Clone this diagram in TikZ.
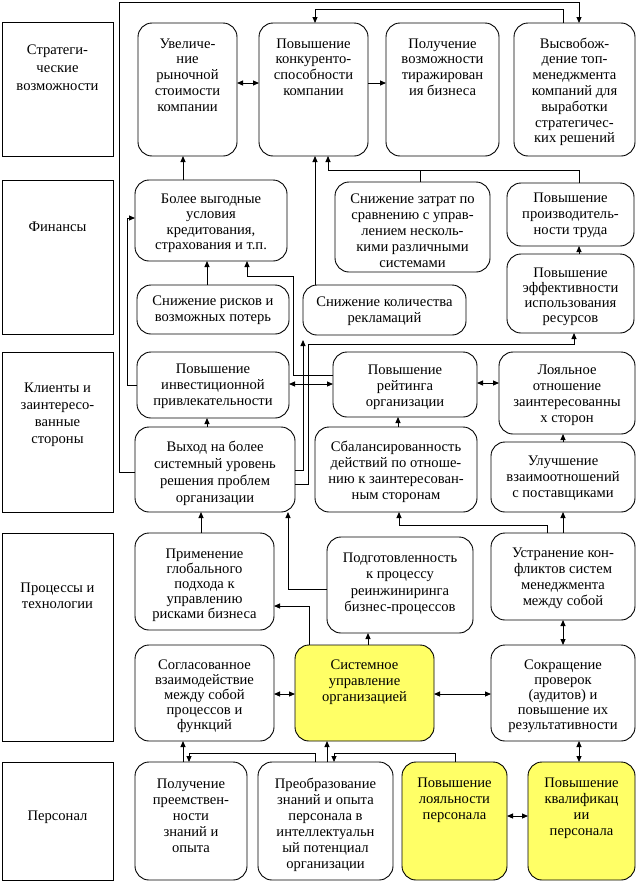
\documentclass[tikz,border=0pt]{standalone}
\usepackage{fontspec}
\setmainfont{Liberation Serif}
\usetikzlibrary{arrows.meta}
\definecolor{hl}{RGB}{255,255,102}
\tikzset{
  rbox/.style={draw, line width=0.9pt, rounded corners=14pt, inner sep=0pt, outer sep=0pt, fill=white},
  ybox/.style={rbox, fill=hl},
  sbox/.style={draw, line width=0.9pt, inner sep=0pt, outer sep=0pt},
  txt/.style={inner sep=0pt, outer sep=0pt, align=center},
  ln/.style={line width=0.9pt},
  conn/.style={line width=0.9pt, -{Triangle[length=6pt,width=5pt]}},
  dbl/.style={line width=0.9pt, {Triangle[length=6pt,width=5pt]}-{Triangle[length=6pt,width=5pt]}}
}
% #1 style, #2 name, #3 x1, #4 y1, #5 x2, #6 y2, #7 first baseline, #8 baselineskip, #9 text
\newcommand\bxn[9]{%
  \node[#1, anchor=north west, minimum width={#5pt-#3pt}, minimum height={#6pt-#4pt}] (#2) at (#3,#4) {};
  \node[txt, anchor=north, font=\fontsize{14.6}{#8}\selectfont] (#2-t) at ({(#3+#5)/2}, {#7-0.7*#8}) {\strut #9};
}
\begin{document}
\begin{tikzpicture}[x=1pt,y=-1pt]
\useasboundingbox (0,0) rectangle (638,881);
% left category boxes
\bxn{sbox}{strat}{2}{22}{113}{156}{54}{18}{Стратеги-\\ческие\\возможности}
\bxn{sbox}{fin}{2}{180}{113}{334}{231}{17}{Финансы}
\bxn{sbox}{cli}{2}{352}{113}{512}{392}{17}{Клиенты и\\заинтересо-\\ванные\\стороны}
\bxn{sbox}{proc}{2}{533}{113}{741}{592}{16.5}{Процессы и\\технологии}
\bxn{sbox}{pers}{2}{762}{113}{880}{820}{17}{Персонал}
% top row
\bxn{rbox}{uvel}{138}{23}{237}{156}{48}{15.8}{Увеличе-\\ние\\рыночной\\стоимости\\компании}
\bxn{rbox}{konk}{259}{23}{368}{156}{48}{15.8}{Повышение\\конкуренто-\\способности\\компании}
\bxn{rbox}{tiraz}{386}{23}{499}{156}{48}{15.8}{Получение\\возможности\\тиражирован\\ия бизнеса}
\bxn{rbox}{vysv}{514}{23}{635}{156}{48}{15.8}{Высвобож-\\дение топ-\\менеджмента\\компаний для\\выработки\\стратегичес-\\ких решений}
% row 2
\bxn{rbox}{kred}{135}{180}{287}{261}{203}{15.5}{Более выгодные\\условия\\кредитования,\\страхования и т.п.}
\bxn{rbox}{zatr}{335}{182}{490}{272}{203}{16}{Снижение затрат по\\сравнению с управ-\\лением несколь-\\кими различными\\системами}
\bxn{rbox}{proizv}{507}{183}{634}{246}{202}{16}{Повышение\\производитель-\\ности труда}
\bxn{rbox}{risk}{137}{285}{289}{334}{305}{16}{Снижение рисков и\\возможных потерь}
\bxn{rbox}{rekl}{303}{285}{466}{335}{306}{16}{Снижение количества\\рекламаций}
\bxn{rbox}{eff}{507}{254}{634}{333}{277}{15}{Повышение\\эффективности\\использования\\ресурсов}
% row 3
\bxn{rbox}{invest}{137}{352}{289}{418}{373}{16}{Повышение\\инвестиционной\\привлекательности}
\bxn{rbox}{reit}{333}{352}{477}{417}{374}{16}{Повышение\\рейтинга\\организации}
\bxn{rbox}{loyal}{499}{352}{635}{434}{374}{16}{Лояльное\\отношение\\заинтересованны\\х сторон}
\bxn{rbox}{vyhod}{135}{427}{295}{512}{451}{17}{Выход на более\\системный уровень\\решения проблем\\организации}
\bxn{rbox}{balans}{315}{427}{477}{512}{451}{16}{Сбалансированность\\действий по отноше-\\нию к заинтересован-\\ным сторонам}
\bxn{rbox}{postav}{491}{442}{635}{512}{465}{16}{Улучшение\\взаимоотношений\\с поставщиками}
% row 4
\bxn{rbox}{glob}{135}{533}{274}{630}{558}{15}{Применение\\глобального\\подхода к\\управлению\\рисками бизнеса}
\bxn{rbox}{podgot}{327}{537}{473}{633}{562}{16.5}{Подготовленность\\к процессу\\реинжиниринга\\бизнес-процессов}
\bxn{rbox}{ustr}{491}{533}{635}{620}{557}{16}{Устранение кон-\\фликтов систем\\менеджмента\\между собой}
\bxn{rbox}{soglas}{135}{645}{274}{741}{669}{15}{Согласованное\\взаимодействие\\между собой\\процессов и\\функций}
\bxn{ybox}{sist}{295}{645}{434}{741}{669}{16}{Системное\\управление\\организацией}
\bxn{rbox}{sokr}{491}{645}{635}{741}{669}{15}{Сокращение\\проверок\\(аудитов) и\\повышение их\\результативности}
% row 5
\bxn{rbox}{preem}{135}{762}{247}{880}{788}{16}{Получение\\преемствен-\\ности\\знаний и\\опыта}
\bxn{rbox}{preobr}{258}{762}{393}{880}{788}{16}{Преобразование\\знаний и опыта\\персонала в\\интеллектуальн\\ый потенциал\\организации}
\bxn{ybox}{lpers}{402}{762}{507}{880}{787}{16}{Повышение\\лояльности\\персонала}
\bxn{ybox}{kval}{528}{762}{635}{880}{787}{16}{Повышение\\квалификац\\ии\\персонала}
% connectors: top
\draw[dbl] (uvel.east |- 0,83) -- (konk.west |- 0,83);
\draw[conn] (konk.east |- 0,83) -- (tiraz.west |- 0,83);
\draw[conn] (vysv.north -| 563,0) |- (315,9) -- (konk.north -| 315,0);
\draw[conn] (vyhod.west |- 0,472) -| (119,2) -| (vysv.north -| 579,0);
% row 2 -> top
\draw[conn] (kred.north -| 183,0) -- (uvel.south -| 183,0);
\draw[conn] (rekl.north -| 315,0) -- (konk.south -| 315,0);
\draw[conn] (proizv.north -| 579,0) |- (328,170) -- (konk.south -| 328,0);
\draw[ln] (zatr.north -| 420,0) -- (420,170);
% finance internals
\draw[conn] (risk.north -| 207,0) -- (kred.south -| 207,0);
\draw[conn] (reit.west |- 0,375) -| (293,276) -| (kred.south -| 247,0);
\draw[conn] (invest.west |- 0,385) -| (127,218) -- (kred.west |- 0,218);
\draw[conn] (eff.north -| 579,0) -- (proizv.south -| 579,0);
\draw[conn] (vyhod.east |- 0,484) -| (308,344) -| (eff.south -| 574,0);
\draw[conn] (vyhod.east |- 0,470) -| ([yshift=-5pt]rekl.south west);
% row 3
\draw[dbl] (invest.east |- 0,384) -- (reit.west |- 0,384);
\draw[dbl] (reit.east |- 0,383) -- (loyal.west |- 0,383);
\draw[conn] (vyhod.north -| 207,0) -- (invest.south -| 207,0);
\draw[conn] (balans.north -| 398,0) -- (reit.south -| 398,0);
\draw[conn] (postav.north -| 563,0) -- (loyal.south -| 563,0);
% row 4 -> row 3
\draw[conn] (glob.north -| 201,0) -- (vyhod.south -| 201,0);
\draw[conn] (podgot.west |- 0,589) -| (vyhod.south -| 288,0);
\draw[conn] (ustr.north -| 547,0) |- (399,525) -- (balans.south -| 399,0);
\draw[conn] (ustr.north -| 563,0) -- (postav.south -| 563,0);
% row 4 internals
\draw[conn] (sist.north -| 309,0) |- (glob.east |- 0,606);
\draw[conn] (sist.north -| 368,0) -- (podgot.south -| 368,0);
\draw[dbl] (soglas.east |- 0,694) -- (sist.west |- 0,694);
\draw[dbl] (sist.east |- 0,694) -- (sokr.west |- 0,694);
\draw[dbl] (ustr.south -| 563,0) -- (sokr.north -| 563,0);
% row 5
\draw[conn] (preem.north -| 183,0) -- (soglas.south -| 183,0);
\draw[conn] (preobr.north -| 315,0) |- (189,753) -- (preem.north -| 189,0);
\draw[conn] (preobr.north -| 327,0) -- (sist.south -| 327,0);
\draw[conn] (lpers.north -| 455,0) |- (334,753) -- (preobr.north -| 334,0);
\draw[dbl] (lpers.east |- 0,816) -- (kval.west |- 0,816);
\draw[dbl] (kval.north -| 579,0) -- (sokr.south -| 579,0);
\end{tikzpicture}
\end{document}
